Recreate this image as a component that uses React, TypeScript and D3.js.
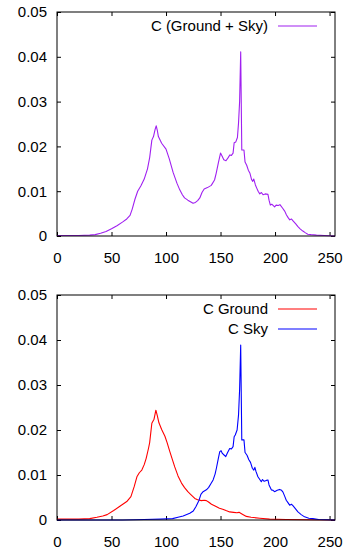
import { useEffect, useRef } from 'react';
import * as d3 from 'd3';

// [pixel value, frequency] pairs
const combinedData: [number, number][] = [
  [0, 0.0001], [20, 0.0001], [30, 0.0002], [35, 0.0003], [40, 0.0006], [45, 0.001], [50, 0.0016],
  [55, 0.0023], [60, 0.0031], [64, 0.0038], [67, 0.0046], [69, 0.006], [71.5, 0.0082], [74, 0.01],
  [77, 0.0112], [80, 0.0127], [83, 0.015], [85, 0.0175], [87, 0.0214], [88.5, 0.0222], [90, 0.0238],
  [91, 0.0246], [92, 0.0236], [93, 0.0222], [96, 0.0207], [100, 0.0194], [103, 0.0172], [106.5, 0.0142],
  [110, 0.0118], [112.6, 0.0103], [115, 0.0092], [117, 0.0085], [120, 0.008], [122, 0.0077],
  [124.8, 0.0073], [127, 0.0075], [129, 0.0079], [131, 0.0085], [133, 0.0097], [135, 0.0105],
  [138, 0.0108], [141.5, 0.0113], [144.5, 0.0125], [146, 0.014], [148, 0.0163], [150, 0.0185],
  [151.5, 0.0178], [153, 0.017], [155, 0.0168], [157, 0.0175], [158.5, 0.0181], [160, 0.018],
  [161.5, 0.0185], [162.5, 0.0208], [164, 0.021], [165.5, 0.022], [166.5, 0.0252], [167.5, 0.03],
  [168.5, 0.0411], [169.5, 0.0192], [171.5, 0.0192], [172.5, 0.0165], [174, 0.0158], [175.5, 0.0147],
  [177, 0.014], [178.5, 0.0126], [179.5, 0.0122], [180.5, 0.0127], [182, 0.0114], [183, 0.0108],
  [184.5, 0.01], [186, 0.0094], [187.5, 0.0097], [189, 0.0092], [191, 0.0094], [193.5, 0.0093],
  [194.5, 0.008], [195.7, 0.0069], [197, 0.0071], [199.6, 0.0065], [201, 0.0069], [203, 0.0068],
  [204.5, 0.007], [207, 0.0062], [209, 0.0055], [210.5, 0.0047], [212, 0.0041], [213.5, 0.0036],
  [215, 0.0038], [216.5, 0.0034], [219, 0.0027], [221, 0.0021], [223, 0.0016], [225.5, 0.0011],
  [228, 0.0007], [230, 0.0004], [233, 0.0003], [238, 0.0002], [245, 0.0001], [255, 0]
];

const groundData: [number, number][] = [
  [0, 0.0002], [20, 0.0002], [30, 0.0003], [36.6, 0.0006], [42, 0.0009], [46, 0.0012], [52, 0.0021],
  [58, 0.0031], [64, 0.0041], [67.8, 0.0052], [70.8, 0.0074], [73.3, 0.0096], [75.5, 0.0105],
  [77.8, 0.0111], [80, 0.0123], [81.8, 0.0137], [84, 0.016], [85, 0.0172], [87, 0.0215], [89, 0.0224],
  [90.7, 0.0244], [92, 0.0232], [93.5, 0.0216], [96, 0.0201], [99, 0.0186], [101, 0.0172],
  [103.5, 0.0152], [106, 0.0133], [108, 0.0118], [111, 0.0098], [114.2, 0.0082], [117, 0.0072],
  [120, 0.0063], [123, 0.0056], [126.4, 0.0048], [129, 0.0045], [132.5, 0.0043], [135, 0.0044],
  [137, 0.0043], [139, 0.004], [141.7, 0.0035], [145, 0.0031], [149, 0.0026], [152, 0.0024],
  [155, 0.0021], [158.4, 0.0018], [162, 0.0017], [165, 0.0016], [167, 0.0017], [170, 0.0013],
  [173.7, 0.0008], [178, 0.0006], [186, 0.0004], [195, 0.0002], [210, 0.0001], [255, 0]
];

const skyData: [number, number][] = [
  [0, 0], [60, 0], [80, 0.0001], [95, 0.0002], [106, 0.0003], [111, 0.0006], [115.7, 0.0009],
  [121.8, 0.0015], [125, 0.002], [127.5, 0.003], [130.3, 0.0044], [132, 0.0057], [134, 0.0063],
  [137, 0.0067], [139, 0.0072], [141, 0.008], [143.2, 0.0089], [145, 0.0102], [146.2, 0.0115],
  [148, 0.0137], [149.3, 0.0152], [150.5, 0.0154], [151.7, 0.0148], [153, 0.0145], [154.8, 0.0141],
  [156.5, 0.015], [158.4, 0.0159], [160, 0.0158], [161.5, 0.0163], [162.5, 0.0185], [163.5, 0.0189],
  [165.2, 0.02], [166.5, 0.0233], [167.5, 0.029], [168.5, 0.0389], [169.5, 0.0178], [171.5, 0.0178],
  [172.5, 0.015], [174.3, 0.0144], [176, 0.0134], [177.5, 0.0128], [179.2, 0.0115], [180.5, 0.0111],
  [181.5, 0.0117], [182.5, 0.0108], [184.3, 0.0096], [186, 0.009], [187.4, 0.0085], [188.5, 0.009],
  [190, 0.0086], [192, 0.0088], [193.5, 0.0089], [194.5, 0.0078], [196.6, 0.0067], [198, 0.0066],
  [199.6, 0.0063], [202, 0.0066], [204.2, 0.0068], [206, 0.0066], [207.3, 0.0062], [209, 0.0052],
  [210.3, 0.0044], [212, 0.0038], [213.4, 0.0033], [215, 0.0035], [216.4, 0.0032], [219, 0.0024],
  [221, 0.0018], [224, 0.0012], [227.1, 0.0007], [231, 0.0004], [234.7, 0.0003], [240, 0.0001], [255, 0]
];

const xTicks = [0, 50, 100, 150, 200, 250];
const yTicks = [0, 0.01, 0.02, 0.03, 0.04, 0.05];

interface Series {
  label: string;
  color: string;
  data: [number, number][];
}

const topSeries: Series[] = [{ label: 'C (Ground + Sky)', color: '#a020f0', data: combinedData }];
const bottomSeries: Series[] = [
  { label: 'C Ground', color: '#ff0000', data: groundData },
  { label: 'C Sky', color: '#0000ff', data: skyData }
];

const FONT = '"Liberation Sans", Arial, sans-serif';

const Panel = ({ series, top, bottom }: { series: Series[]; top: number; bottom: number }) => {
  const gRef = useRef<SVGGElement>(null);

  useEffect(() => {
    if (!gRef.current) return;
    const g = d3.select(gRef.current);
    g.selectAll('*').remove();

    const left = 57;
    const right = 335;
    const x = d3.scaleLinear().domain([0, 255]).range([left, right]);
    const y = d3.scaleLinear().domain([0, 0.05]).range([bottom, top]);
    const yFmt = (d: any) => (d === 0 ? '0' : d3.format('.2f')(d));

    const styleAxis = (sel: any) => {
      sel.select('.domain').remove();
      sel.selectAll('line').attr('stroke', '#000');
      sel.selectAll('text').attr('fill', '#000').style('font-size', '15px').style('font-family', FONT);
    };

    g.append('g')
      .attr('transform', `translate(${left},0)`)
      .call(d3.axisLeft(y).tickValues(yTicks).tickFormat(yFmt).tickSizeInner(-4).tickSizeOuter(0).tickPadding(10))
      .call(styleAxis);
    g.append('g')
      .attr('transform', `translate(${right},0)`)
      .call(d3.axisRight(y).tickValues(yTicks).tickFormat(() => '').tickSizeInner(-4).tickSizeOuter(0))
      .call(styleAxis);
    g.append('g')
      .attr('transform', `translate(0,${bottom})`)
      .call(d3.axisBottom(x).tickValues(xTicks).tickSizeInner(-4).tickSizeOuter(0).tickPadding(16))
      .call(styleAxis);
    g.append('g')
      .attr('transform', `translate(0,${top})`)
      .call(d3.axisTop(x).tickValues(xTicks).tickFormat(() => '').tickSizeInner(-4).tickSizeOuter(0))
      .call(styleAxis);

    const line = d3.line<[number, number]>()
      .x(d => x(d[0]))
      .y(d => y(d[1]));

    series.forEach((s, i) => {
      g.append('path')
        .datum(s.data)
        .attr('d', line)
        .attr('fill', 'none')
        .attr('stroke', s.color)
        .attr('stroke-width', 1.1)
        .attr('stroke-linejoin', 'round');

      const ly = top + 14 + i * 20;
      g.append('text')
        .attr('x', 268)
        .attr('y', ly)
        .attr('dy', '0.35em')
        .attr('text-anchor', 'end')
        .style('font-size', '15px')
        .style('font-family', FONT)
        .attr('fill', '#000')
        .text(s.label);
      g.append('line')
        .attr('x1', 278)
        .attr('x2', 317)
        .attr('y1', ly)
        .attr('y2', ly)
        .attr('stroke', s.color)
        .attr('stroke-width', 1.1);
    });

    g.append('rect')
      .attr('x', left)
      .attr('y', top)
      .attr('width', right - left)
      .attr('height', bottom - top)
      .attr('fill', 'none')
      .attr('stroke', '#000')
      .attr('stroke-width', 1);
  }, [series, top, bottom]);

  return <g ref={gRef} />;
};

export default function App() {
  return (
    <svg
      width={347}
      height={552}
      style={{ position: 'absolute', left: 0, top: 0, background: '#fff' }}
    >
      <Panel series={topSeries} top={12} bottom={236} />
      <Panel series={bottomSeries} top={295} bottom={520} />
    </svg>
  );
}
